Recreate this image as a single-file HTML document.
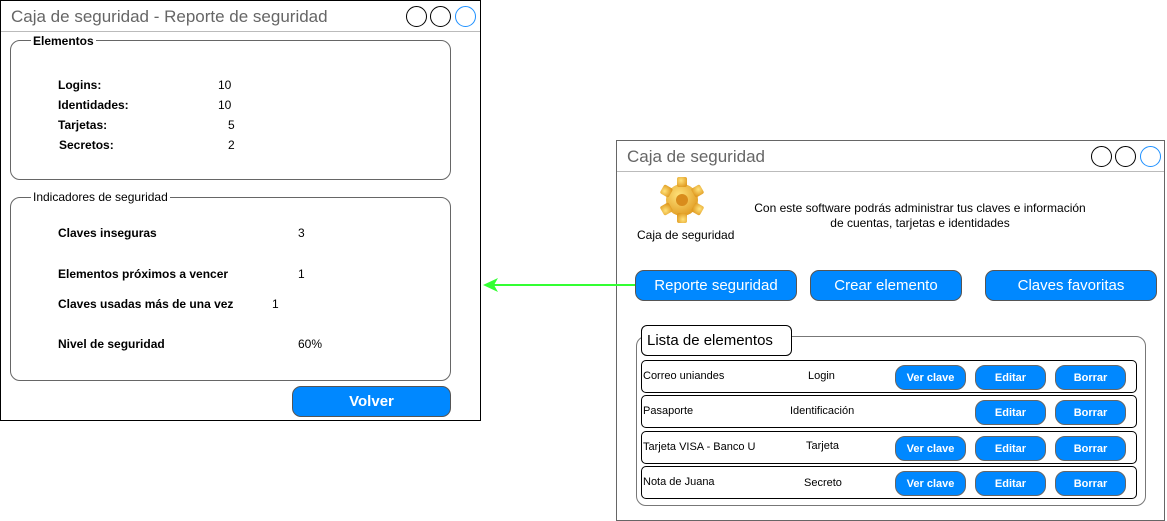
<!DOCTYPE html>
<html><head><meta charset="utf-8"><style>
*{box-sizing:border-box;margin:0;padding:0}
body{width:1167px;height:521px;background:#fff;position:relative;overflow:hidden;font-family:"Liberation Sans",Arial,sans-serif;color:#000}
.a{position:absolute}
.win{position:absolute;border:1px solid #000;background:#fff}
.tbar{position:absolute;left:0;right:0;top:0;height:31px;border-bottom:1px solid #bbb}
.title{position:absolute;left:10px;top:6px;font-size:17px;color:#666}
.c{position:absolute;width:21px;height:21px;border:1px solid #000;border-radius:50%}
.c.b{border-color:#1e90ff}
.grp{position:absolute;border:1px solid #666;border-radius:10px}
.lg{position:absolute;background:#fff;font-size:12px;font-weight:bold;padding:0 2px}
.t{position:absolute;font-size:12px;font-weight:bold;white-space:nowrap}
.btn{position:absolute;background:#0088ff;border:1px solid #555;border-radius:9px;color:#fff;font-size:15px;display:flex;align-items:center;justify-content:center}
.row{position:absolute;left:641px;width:496px;border:1px solid #000;border-radius:5px;height:33px}
.sb{position:absolute;background:#0088ff;border:1px solid #666;border-radius:10px;color:#fff;font-size:11px;font-weight:bold;width:71px;height:25px;display:flex;align-items:center;justify-content:center}
.n{position:absolute;font-size:11px;white-space:nowrap}
</style></head><body>

<div class="win" style="left:0;top:0;width:481px;height:421px">
  <div class="tbar"></div>
  <div class="title">Caja de seguridad - Reporte de seguridad</div>
  <div class="c" style="left:405px;top:5px"></div>
  <div class="c" style="left:429px;top:5px"></div>
  <div class="c b" style="left:454px;top:5px"></div>
</div>
<div class="grp" style="left:10px;top:40px;width:441px;height:140px"></div>
<div class="lg" style="left:31px;top:34px">Elementos</div>
<div class="t" style="left:58px;top:78px">Logins:</div><div class="t" style="left:218px;top:78px;font-weight:normal">10</div>
<div class="t" style="left:58px;top:98px">Identidades:</div><div class="t" style="left:218px;top:98px;font-weight:normal">10</div>
<div class="t" style="left:58px;top:118px">Tarjetas:</div><div class="t" style="left:228px;top:118px;font-weight:normal">5</div>
<div class="t" style="left:59px;top:138px">Secretos:</div><div class="t" style="left:228px;top:138px;font-weight:normal">2</div>

<div class="grp" style="left:10px;top:197px;width:441px;height:184px"></div>
<div class="lg" style="left:31px;top:190px;font-weight:normal">Indicadores de seguridad</div>
<div class="t" style="left:58px;top:226px">Claves inseguras</div><div class="t" style="left:298px;top:226px;font-weight:normal">3</div>
<div class="t" style="left:58px;top:267px">Elementos próximos a vencer</div><div class="t" style="left:298px;top:267px;font-weight:normal">1</div>
<div class="t" style="left:58px;top:297px">Claves usadas más de una vez</div><div class="t" style="left:272px;top:297px;font-weight:normal">1</div>
<div class="t" style="left:58px;top:337px">Nivel de seguridad</div><div class="t" style="left:298px;top:337px;font-weight:normal">60%</div>
<div class="btn" style="left:292px;top:386px;width:159px;height:31px;font-weight:bold">Volver</div>

<div class="win" style="left:616px;top:140px;width:549px;height:381px;border-color:#666">
  <div class="tbar"></div>
  <div class="title">Caja de seguridad</div>
  <div class="c" style="left:474px;top:5px"></div>
  <div class="c" style="left:498px;top:5px"></div>
  <div class="c b" style="left:523px;top:5px"></div>
</div>
<svg class="a" style="left:656px;top:174px" width="52" height="52" viewBox="-26 -26 52 52">
  <defs><radialGradient id="g" cx="40%" cy="35%" r="70%"><stop offset="0" stop-color="#ffe27a"/><stop offset="1" stop-color="#e09a20"/></radialGradient></defs>
  <g fill="url(#g)">
    <circle r="16"/>
    <g id="tt"><rect x="-5" y="-23" width="10" height="10" rx="2"/></g>
    <use href="#tt" transform="rotate(60)"/><use href="#tt" transform="rotate(120)"/><use href="#tt" transform="rotate(180)"/><use href="#tt" transform="rotate(240)"/><use href="#tt" transform="rotate(300)"/>
  </g>
  <circle r="6" fill="#d98c1c"/>
</svg>
<div class="n" style="left:637px;top:228px;font-size:12px">Caja de seguridad</div>
<div class="n" style="left:720px;top:201px;width:400px;text-align:center;font-size:12px;line-height:15px">Con este software podrás administrar tus claves e información<br>de cuentas, tarjetas e identidades</div>

<div class="btn" style="left:635px;top:270px;width:162px;height:31px">Reporte seguridad</div>
<div class="btn" style="left:810px;top:270px;width:152px;height:31px">Crear elemento</div>
<div class="btn" style="left:985px;top:270px;width:172px;height:31px">Claves favoritas</div>

<svg class="a" style="left:470px;top:270px" width="170" height="30">
  <line x1="165" y1="15" x2="22" y2="15" stroke="#33ff33" stroke-width="2"/>
  <polygon points="13,15 28,8 24,15 28,22" fill="#33ff33"/>
</svg>

<div class="grp" style="left:636px;top:336px;width:510px;height:170px;border-color:#777"></div>
<div class="a" style="left:641px;top:325px;width:151px;height:31px;border:1px solid #000;border-radius:6px;background:#fff;font-size:15px;padding:6px 0 0 5px">Lista de elementos</div>

<div class="row" style="top:360px"></div>
<div class="n" style="left:643px;top:370px">Correo uniandes</div>
<div class="n" style="left:808px;top:370px">Login</div>
<div class="sb" style="left:895px;top:365px">Ver clave</div>
<div class="sb" style="left:975px;top:365px">Editar</div>
<div class="sb" style="left:1055px;top:365px">Borrar</div>

<div class="row" style="top:395px"></div>
<div class="n" style="left:643px;top:405px">Pasaporte</div>
<div class="n" style="left:790px;top:405px">Identificación</div>
<div class="sb" style="left:975px;top:400px">Editar</div>
<div class="sb" style="left:1055px;top:400px">Borrar</div>

<div class="row" style="top:431px"></div>
<div class="n" style="left:643px;top:441px">Tarjeta VISA - Banco U</div>
<div class="n" style="left:806px;top:440px">Tarjeta</div>
<div class="sb" style="left:895px;top:436px">Ver clave</div>
<div class="sb" style="left:975px;top:436px">Editar</div>
<div class="sb" style="left:1055px;top:436px">Borrar</div>

<div class="row" style="top:466px"></div>
<div class="n" style="left:643px;top:476px">Nota de Juana</div>
<div class="n" style="left:804px;top:477px">Secreto</div>
<div class="sb" style="left:895px;top:471px">Ver clave</div>
<div class="sb" style="left:975px;top:471px">Editar</div>
<div class="sb" style="left:1055px;top:471px">Borrar</div>
</body></html>
